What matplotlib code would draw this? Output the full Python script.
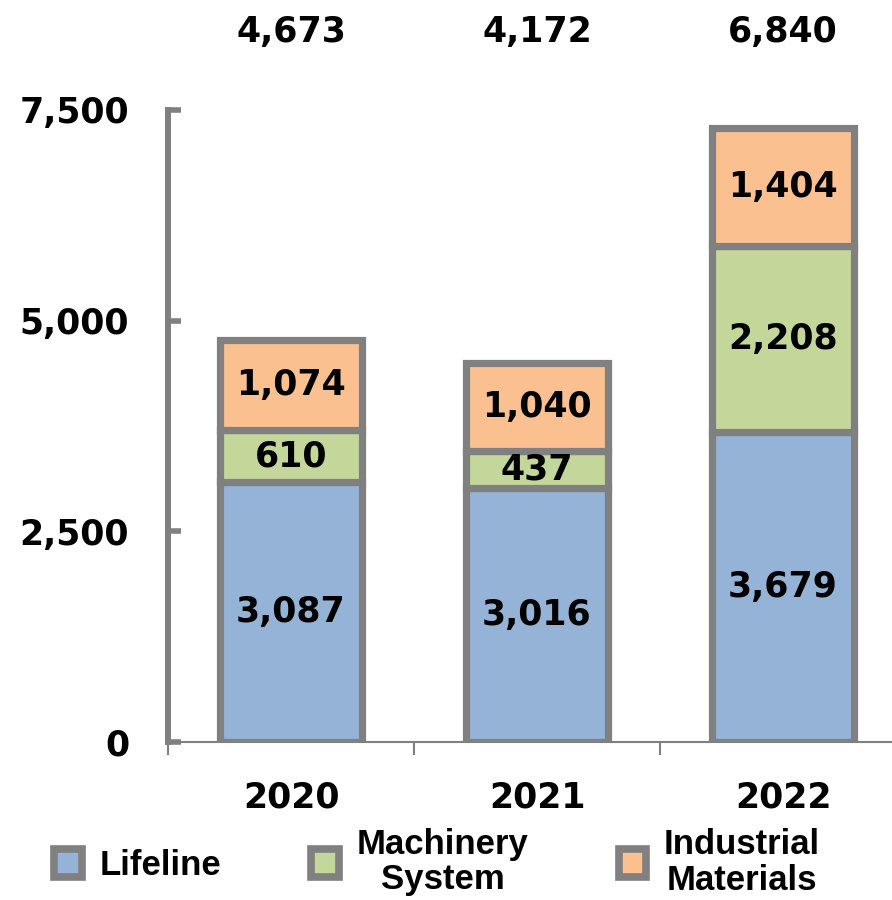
import matplotlib
matplotlib.use("Agg")
import matplotlib.pyplot as plt
from matplotlib.patches import Patch
from matplotlib import font_manager as fm

years = ["2020", "2021", "2022"]
lifeline = [3087, 3016, 3679]
machinery = [610, 437, 2208]
industrial = [1074, 1040, 1404]
totals = ["4,673", "4,172", "6,840"]
series_names = ["Lifeline", "Machinery\nSystem", "Industrial\nMaterials"]
yticks = [0, 2500, 5000, 7500]
ytick_labels = ["0", "2,500", "5,000", "7,500"]

colors = ["#95B3D7", "#C4D79B", "#FAC090"]
edge = "#808080"

names = {f.name for f in fm.fontManager.ttflist}
legend_font = "Liberation Sans Narrow" if "Liberation Sans Narrow" in names else "Liberation Sans"

fig = plt.figure(figsize=(8.92, 9.0), dpi=100)
ax = fig.add_axes([168/892, (900-742)/900, 724/892, 632/900])

x = [0.5, 1.5, 2.5]
width = 0.575
lw = 5.2
fs = 25
series = [lifeline, machinery, industrial]
bottoms = [0, 0, 0]
for vals, c in zip(series, colors):
    ax.bar(x, vals, width, bottom=bottoms, color=c, edgecolor=edge,
           linewidth=lw, zorder=3)
    for xi, b, v in zip(x, bottoms, vals):
        ax.text(xi, b + v/2, f"{v:,}", ha="center", va="center",
                fontsize=fs, fontweight="bold", family="DejaVu Sans", zorder=4)
    bottoms = [b + v for b, v in zip(bottoms, vals)]

for xi, t in zip(x, totals):
    ax.text(xi, 1.0 + (110 - 32) / 632, t, transform=ax.get_xaxis_transform(),
            ha="center", va="center", fontsize=fs, fontweight="bold",
            family="DejaVu Sans")

ax.spines["top"].set_visible(False)
ax.spines["right"].set_visible(False)
ax.spines["left"].set_color(edge)
ax.spines["left"].set_linewidth(4.3)
ax.spines["bottom"].set_color(edge)
ax.spines["bottom"].set_linewidth(1.5)
ax.spines["left"].set_zorder(5)

ax.set_yticks(yticks)
ax.set_yticklabels(ytick_labels)
ax.tick_params(axis="y", direction="in", length=9, width=4, color=edge, pad=28,
               labelsize=fs)
for lab in ax.get_yticklabels():
    lab.set_fontweight("bold")

ax.set_xticks([0, 1, 2])
ax.set_xticklabels([])
ax.set_xticks(x, minor=True)
ax.set_xticklabels(years, minor=True)
ax.tick_params(axis="x", which="major", direction="out", length=9, width=1.5, color=edge)
ax.tick_params(axis="x", which="minor", length=0, pad=28, labelsize=fs)
for lab in ax.get_xticklabels(minor=True):
    lab.set_fontweight("bold")

ax.set_xlim(0, 724/246)
ax.set_ylim(0, 7500)

handles = [Patch(facecolor=c, edgecolor=edge, linewidth=5.5) for c in colors]
leg = fig.legend(handles, series_names, ncol=3, loc="center",
                 bbox_to_anchor=(0.49, 0.042), frameon=False,
                 handlelength=0.8, handleheight=0.85, handletextpad=0.5,
                 columnspacing=2.6,
                 prop={"family": legend_font, "weight": "bold", "size": 25})
for t in leg.get_texts():
    t.set_multialignment("center")
    t.set_linespacing(1.1)

fig.savefig("out.png", dpi=100)
